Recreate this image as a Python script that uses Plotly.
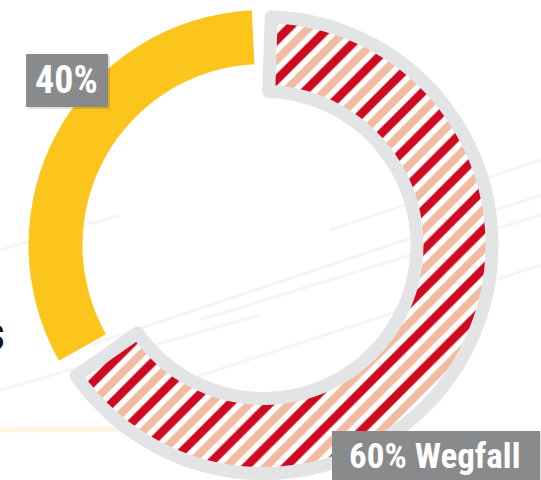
import plotly.graph_objects as go

# ---- data ----
share_labels = ["40%", "60% Wegfall"]          # printed shares
# drawn arc extents (percent of full circle, as drawn in the picture)
yellow_arc = [32.4, 67.6]                        # yellow ring, remainder hidden
striped_arc = [64.75, 35.25]                     # striped ring, remainder hidden
yellow_start_deg = 240.5                         # clockwise from 12 o'clock
striped_start_deg = 1.95

YELLOW = "#FCC51B"
RED = "#CD0A20"
SALMON = "#F1BBA1"
BORDER = "#E3E4E6"
BOX = "#898A8C"
CLEAR = "rgba(0,0,0,0)"
FONT = "Liberation Sans Narrow, Roboto Condensed, Arial Narrow, Roboto, sans-serif"

W, H = 541, 480
cx, cy = 263.5, 245.0
R_outer = 235.0
border = 13.0
R_slice = R_outer - border / 2
R_inner_striped = 147.0 + border / 2
R_inner_yellow = 181.0


def dom(r):
    return dict(x=[(cx - r) / W, (cx + r) / W],
                y=[(H - (cy + r)) / H, (H - (cy - r)) / H])


fig = go.Figure()

# yellow ring
fig.add_trace(go.Pie(
    values=yellow_arc, labels=["Anteil", "rest"], sort=False,
    direction="clockwise", rotation=yellow_start_deg,
    hole=R_inner_yellow / R_outer, domain=dom(R_outer),
    marker=dict(colors=[YELLOW, CLEAR], line=dict(width=0)),
    textinfo="none", hoverinfo="skip", showlegend=False,
))

# striped ring: salmon stripes on white
fig.add_trace(go.Pie(
    values=striped_arc, labels=["Wegfall", "rest"], sort=False,
    direction="clockwise", rotation=striped_start_deg,
    hole=R_inner_striped / R_slice, domain=dom(R_slice),
    marker=dict(colors=[SALMON, CLEAR], line=dict(width=0),
                pattern=dict(shape=["/", ""], fgcolor=SALMON, bgcolor=["#FFFFFF", CLEAR],
                             size=14, solidity=0.57, fillmode="replace")),
    textinfo="none", hoverinfo="skip", showlegend=False,
))

# striped ring: red stripes on top + gray border
fig.add_trace(go.Pie(
    values=striped_arc, labels=["Wegfall", "rest"], sort=False,
    direction="clockwise", rotation=striped_start_deg,
    hole=R_inner_striped / R_slice, domain=dom(R_slice),
    marker=dict(colors=[RED, CLEAR], line=dict(width=[border, 0], color=[BORDER, CLEAR]),
                pattern=dict(shape=["/", ""], fgcolor=RED, bgcolor=CLEAR,
                             size=28, solidity=0.30, fillmode="replace")),
    textinfo="none", hoverinfo="skip", showlegend=False,
))

shapes = []
# faint background streaks
for (x0, y0, x1, y1) in [(90, 345, 541, 195), (140, 395, 541, 265), (200, 320, 541, 215),
                         (0, 390, 260, 315), (330, 230, 541, 160), (0, 250, 120, 215)]:
    shapes.append(dict(type="line", xref="paper", yref="paper", layer="below",
                       x0=x0 / W, y0=1 - y0 / H, x1=x1 / W, y1=1 - y1 / H,
                       line=dict(color="#F5F5F5", width=3)))
shapes.append(dict(type="line", xref="paper", yref="paper", layer="below",
                   x0=0, y0=1 - 430 / H, x1=340 / W, y1=1 - 427 / H,
                   line=dict(color="#FBF4DF", width=5)))
# label boxes (shadow + box)
for (x0, y0, x1, y1) in [(26, 54, 108, 107), (332, 431, 540, 480)]:
    shapes.append(dict(type="rect", xref="paper", yref="paper", layer="above",
                       x0=(x0 + 2) / W, x1=(x1 + 2) / W, y0=1 - (y1 + 2) / H, y1=1 - (y0 + 2) / H,
                       fillcolor="rgba(0,0,0,0.12)", line=dict(width=0)))
    shapes.append(dict(type="rect", xref="paper", yref="paper", layer="above",
                       x0=x0 / W, x1=x1 / W, y0=1 - y1 / H, y1=1 - y0 / H,
                       fillcolor=BOX, line=dict(width=0)))

annotations = [
    dict(text="<b>" + share_labels[0] + "</b>", x=66 / W, y=1 - 80 / H, xref="paper", yref="paper",
         showarrow=False, xanchor="center", yanchor="middle",
         font=dict(family=FONT, size=38, color="#FFFFFF")),
    dict(text="<b>" + share_labels[1] + "</b>", x=434 / W, y=1 - 456 / H, xref="paper", yref="paper",
         showarrow=False, xanchor="center", yanchor="middle",
         font=dict(family=FONT, size=35, color="#FFFFFF")),
    dict(text="<b>s</b>", x=7 / W, y=1 - 333 / H, xref="paper", yref="paper",
         showarrow=False, xanchor="right", yanchor="middle",
         font=dict(family=FONT, size=48, color="#111111")),
]

fig.update_layout(
    width=W, height=H, margin=dict(l=0, r=0, t=0, b=0),
    paper_bgcolor="#FFFFFF", plot_bgcolor="#FFFFFF",
    shapes=shapes, annotations=annotations, showlegend=False,
)

fig.write_html("out.html", config={"displayModeBar": False, "staticPlot": True},
               post_script="document.body.style.margin='0';document.body.style.overflow='hidden';")
